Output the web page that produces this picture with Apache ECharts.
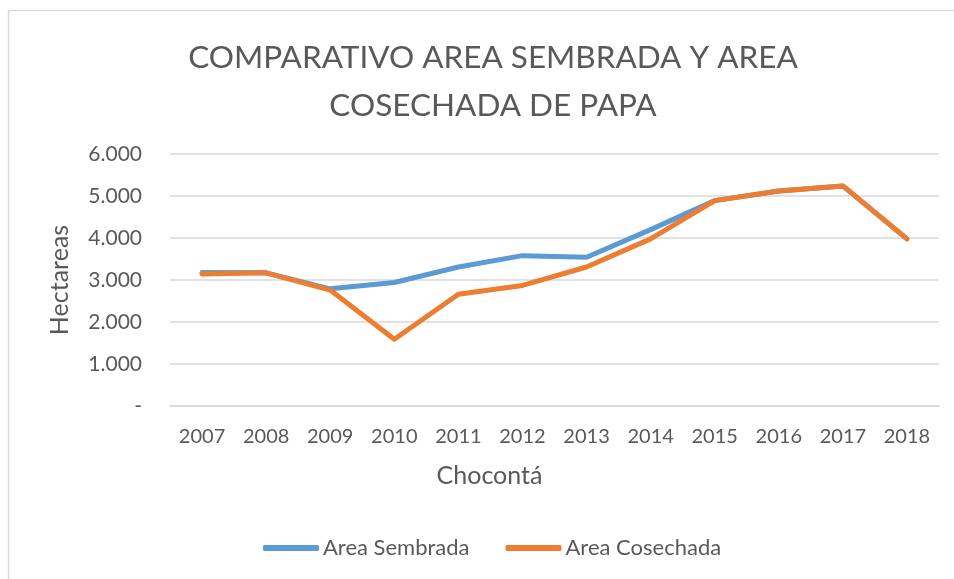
<!DOCTYPE html>
<html>
<head>
<meta charset="utf-8">
<script src="https://cdn.jsdelivr.net/npm/echarts@6/dist/echarts.min.js"></script>
<style>
  html, body { margin: 0; padding: 0; background: #fff; }
  #chart { width: 954px; height: 579px; }
</style>
</head>
<body>
<div id="chart"></div>
<script>
const years = ['2007', '2008', '2009', '2010', '2011', '2012', '2013', '2014', '2015', '2016', '2017', '2018'];
const sembrada = [3180, 3170, 2790, 2940, 3310, 3580, 3540, 4200, 4890, 5120, 5240, 3980];
const cosechada = [3140, 3170, 2760, 1590, 2660, 2870, 3310, 3980, 4890, 5120, 5240, 3980];

const gris = '#595959';
const font = 'Lato';

const chart = echarts.init(document.getElementById('chart'));
chart.setOption({
  backgroundColor: '#fff',
  animation: false,
  // marco del grafico (solo se ve arriba e izquierda)
  graphic: [{
    type: 'rect',
    shape: { x: 8.5, y: 10.5, width: 1200, height: 1200 },
    style: { fill: 'none', stroke: '#d9d9d9', lineWidth: 1.5 },
    silent: true
  }],
  title: {
    text: 'COMPARATIVO AREA SEMBRADA Y AREA\nCOSECHADA DE PAPA',
    left: 488,
    top: 29,
    textAlign: 'center',
    textStyle: {
      color: gris,
      fontFamily: font,
      fontWeight: 'normal',
      fontSize: 31.5,
      lineHeight: 48
    }
  },
  legend: {
    data: ['Area Sembrada', 'Area Cosechada'],
    top: 532,
    left: 258,
    icon: 'roundRect',
    itemWidth: 56,
    itemHeight: 6,
    itemGap: 36,
    textStyle: { color: gris, fontFamily: font, fontSize: 22, padding: [0, 0, 0, -1] }
  },
  grid: {
    left: 170,
    right: 15,
    top: 154,
    bottom: 173,
    containLabel: false
  },
  xAxis: {
    type: 'category',
    data: years,
    boundaryGap: true,
    name: 'Chocontá',
    nameLocation: 'middle',
    nameGap: 57,
    nameTextStyle: { color: gris, fontFamily: font, fontSize: 25, padding: [0, 130, 0, 0] },
    axisLine: { show: true, lineStyle: { color: '#d9d9d9', width: 1.5 } },
    axisTick: { show: false },
    axisLabel: { color: gris, fontFamily: font, fontSize: 20, margin: 21 }
  },
  yAxis: {
    type: 'value',
    min: 0,
    max: 6000,
    interval: 1000,
    name: 'Hectareas',
    nameLocation: 'middle',
    nameGap: 98,
    nameRotate: 90,
    nameTextStyle: { color: gris, fontFamily: font, fontSize: 25 },
    axisLine: { show: false },
    axisTick: { show: false },
    splitLine: { lineStyle: { color: '#d9d9d9', width: 1.5 } },
    axisLabel: {
      color: gris,
      fontFamily: font,
      fontSize: 21,
      margin: 28,
      formatter: function (v) {
        if (v === 0) return '-';
        return String(v).replace(/\B(?=(\d{3})+(?!\d))/g, '.');
      }
    }
  },
  series: [
    {
      name: 'Area Sembrada',
      type: 'line',
      data: sembrada,
      symbol: 'none',
      color: '#5B9BD5',
      lineStyle: { width: 5, cap: 'round', join: 'round' }
    },
    {
      name: 'Area Cosechada',
      type: 'line',
      data: cosechada,
      symbol: 'none',
      color: '#ED7D31',
      lineStyle: { width: 5, cap: 'round', join: 'round' }
    }
  ]
});
</script>
</body>
</html>
